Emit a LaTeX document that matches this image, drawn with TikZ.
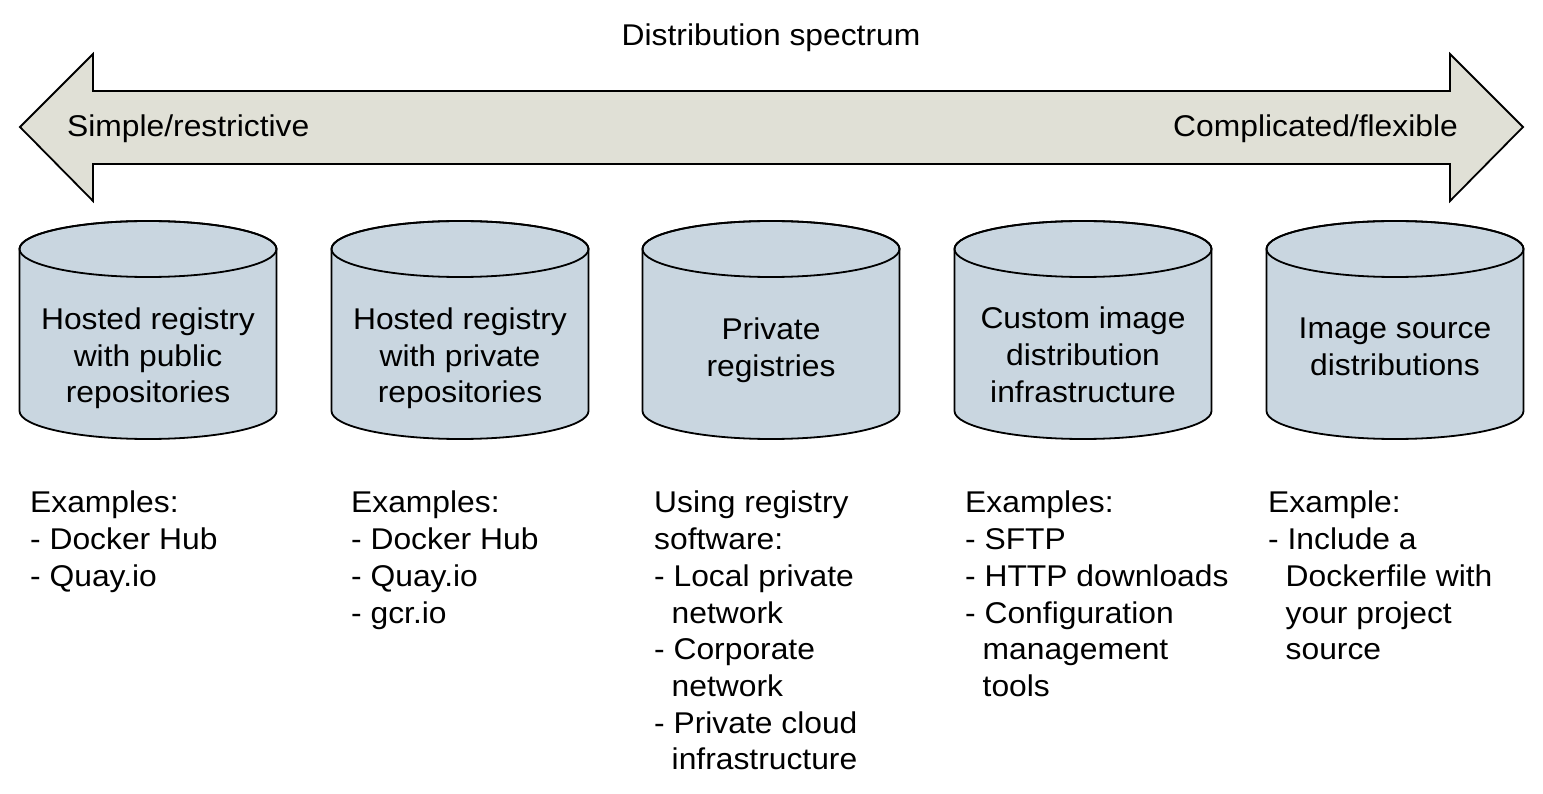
\documentclass[tikz,border=0pt]{standalone}
\usepackage{fontspec}
\setmainfont[FakeStretch=1.06]{Liberation Sans}
\usetikzlibrary{positioning}
\definecolor{arrowfill}{RGB}{224,224,214}
\definecolor{cylfill}{RGB}{201,214,224}
\newcommand{\subline}{\hspace*{17.5pt}}

\begin{document}
\begin{tikzpicture}[
  x=1pt, y=1pt,
  every node/.style={inner sep=0pt, font=\fontsize{30}{36.7}\selectfont},
  spectrum/.style={draw, line width=1.8pt, fill=arrowfill, line join=miter},
  cyl/.style={draw, line width=1.8pt, fill=cylfill},
  regtext/.style={align=center, anchor=north},
  notebox/.style={align=left, anchor=north west}
]
\useasboundingbox (0,0) rectangle (1543,-794);

% spectrum arrow
\filldraw[spectrum] (20,-127) -- (93,-54) -- (93,-91) -- (1450,-91) -- (1450,-54)
  -- (1523,-127) -- (1450,-201) -- (1450,-164) -- (93,-164) -- (93,-201) -- cycle;

\node[anchor=base] (title) at (771,-46) {Distribution spectrum};
\node[anchor=base west] (simple) at (67,-137) {Simple/restrictive};
\node[anchor=base east] (complex) at (1458,-137) {Complicated/flexible};

% registries
\foreach \i/\x/\t/\txt in {
  1/148/307.5/{Hosted registry\\with public\\repositories},
  2/460/307.5/{Hosted registry\\with private\\repositories},
  3/771/317.5/{Private\\registries},
  4/1083/307/{Custom image\\distribution\\infrastructure},
  5/1395/317.5/{Image source\\distributions}} {
  \filldraw[cyl] (\x-128.5,-249) -- (\x-128.5,-411)
    arc[start angle=180, end angle=360, x radius=128.5pt, y radius=28pt]
    -- (\x+128.5,-249)
    arc[start angle=0, end angle=180, x radius=128.5pt, y radius=28pt] -- cycle;
  \draw[cyl, fill=none] (\x,-249) ellipse[x radius=128.5pt, y radius=28pt];
  \node[regtext] (reg\i) at (\x,-\t) {\txt};
}

% examples
\node[notebox] (ex1) at (30,-491) {Examples:\\- Docker Hub\\- Quay.io};
\node[notebox] (ex2) at (351,-491) {Examples:\\- Docker Hub\\- Quay.io\\- gcr.io};
\node[notebox] (ex3) at (654,-491) {Using registry\\software:\\- Local private\\\subline network\\- Corporate\\\subline network\\- Private cloud\\\subline infrastructure};
\node[notebox] (ex4) at (965,-491) {Examples:\\- SFTP\\- HTTP downloads\\- Configuration\\\subline management\\\subline tools};
\node[notebox] (ex5) at (1268,-491) {Example:\\- Include a\\\subline Dockerfile with\\\subline your project\\\subline source};
\end{tikzpicture}
\end{document}
